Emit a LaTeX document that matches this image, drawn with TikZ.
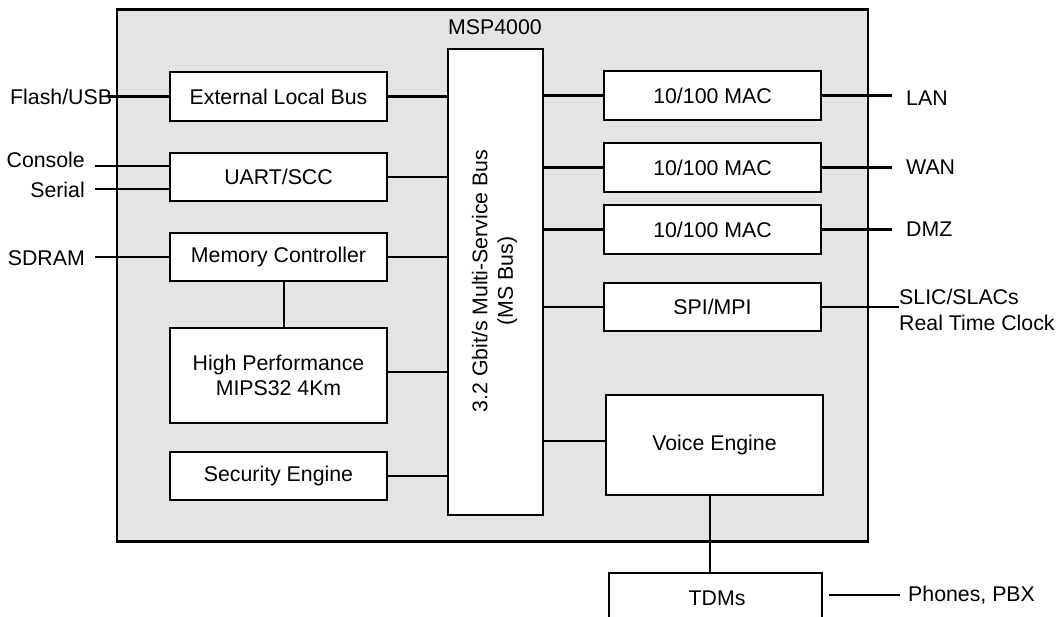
\documentclass[tikz,border=0pt]{standalone}
\usepackage{fontspec}
\setmainfont{Liberation Sans}
\usetikzlibrary{calc}
\definecolor{chipgray}{HTML}{E4E4E4}
\begin{document}
\begin{tikzpicture}[x=1pt,y=-1pt,
  every node/.style={font=\fontsize{21.3}{25.5}\selectfont, text=black},
  blk/.style={draw=black, line width=2.7pt, fill=white, minimum width=217pt, inner sep=0pt, align=center},
  wire/.style={draw=black, line width=2.6pt},
  lbl/.style={inner sep=0pt}]
\useasboundingbox (0,0) rectangle (1063,617);
\clip (0,0) rectangle (1063,617);
% chip outline
\node[draw=black, line width=2.9pt, fill=chipgray, minimum width=751pt, minimum height=532pt, inner sep=0pt] (chip) at (492.5,275.5) {};
\node[lbl] (msp) at (495,27) {MSP4000};
% bus
\node[blk, minimum width=95pt, minimum height=466pt] (bus) at (495.5,282) {};
\node[lbl, rotate=90, align=center] (bustext) at (494.5,281) {3.2 Gbit/s Multi-Service Bus\\(MS Bus)};
% left blocks
\node[blk, minimum height=49pt] (elb) at (278.5,96.5) {External Local Bus};
\node[blk, minimum height=48pt] (uart) at (278.5,177) {UART/SCC};
\node[blk, minimum height=48pt] (mem) at (278.5,257) {Memory Controller};
\node[blk, minimum height=95pt] (hp) at (278.5,375.5) {High Performance\\MIPS32 4Km};
\node[blk, minimum height=48pt] (sec) at (278.5,476) {Security Engine};
% right blocks
\node[blk, minimum height=49pt] (mac1) at (712.5,95.5) {10/100 MAC};
\node[blk, minimum height=49pt] (mac2) at (712.5,167.5) {10/100 MAC};
\node[blk, minimum height=49pt] (mac3) at (712.5,229.5) {10/100 MAC};
\node[blk, minimum height=48pt] (spi) at (712.5,307) {SPI/MPI};
\node[blk, minimum height=100pt] (voice) at (714.5,445) {Voice Engine};
\node[blk, minimum width=213pt, minimum height=120pt] (tdm) at (715.5,633) {};
\node[lbl] (tdmtext) at (717,598) {TDMs};
% bus connections
\foreach \n in {elb,uart,mem,sec} \draw[wire] (\n.east) -- (\n.east -| bus.west);
\draw[wire] ([yshift=3.5pt]hp.east) -- ([yshift=3.5pt]hp.east -| bus.west);
\foreach \n in {mac1,mac2,mac3,spi} \draw[wire] (\n.west -| bus.east) -- (\n.west);
\draw[wire] ([yshift=4pt]voice.west -| bus.east) -- ([yshift=4pt]voice.west);
\draw[wire] ([xshift=5.5pt]mem.south) -- ([xshift=5.5pt]hp.north);
\draw[wire] ([xshift=-4.5pt]voice.south) -- ([xshift=-4.5pt]voice.south |- tdm.north);
% external labels left
\node[lbl, anchor=west] (flash) at (10,97) {Flash/USB};
\node[lbl, anchor=east] (console) at (85,160) {Console};
\node[lbl, anchor=east] (serial) at (85,190) {Serial};
\node[lbl, anchor=east] (sdram) at (85,258) {SDRAM};
\coordinate (cc) at (95,166);
\coordinate (sc) at (95,189);
\draw[wire] ([xshift=-4pt]flash.east |- elb.west) -- (elb.west);
\draw[wire] (cc) -- (cc -| uart.west);
\draw[wire] (sc) -- (sc -| uart.west);
\draw[wire] ([xshift=10pt]sdram.east |- mem.west) -- (mem.west);
% external labels right
\node[lbl, anchor=west] (lan) at (906,98) {LAN};
\node[lbl, anchor=west] (wan) at (906,167) {WAN};
\node[lbl, anchor=west] (dmz) at (906,229) {DMZ};
\node[lbl, anchor=west, align=left] (slic) at (899,310) {SLIC/SLACs\\Real Time Clock};
\node[lbl, anchor=west] (phones) at (908,595) {Phones, PBX};
\draw[wire] (mac1.east) -- ([xshift=-14pt]lan.west |- mac1.east);
\draw[wire] (mac2.east) -- ([xshift=-14pt]wan.west |- mac2.east);
\draw[wire] (mac3.east) -- ([xshift=-14pt]dmz.west |- mac3.east);
\draw[wire] (spi.east) -- (spi.east -| slic.west);
\draw[wire] ([xshift=6pt]tdm.east |- phones.west) -- ([xshift=-8pt]phones.west);
\end{tikzpicture}
\end{document}
